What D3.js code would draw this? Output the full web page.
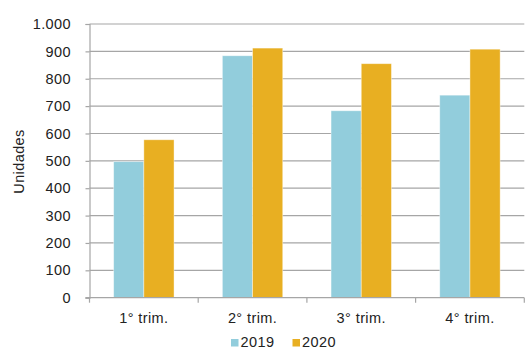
<!DOCTYPE html>
<html><head><meta charset="utf-8">
<script src="https://cdn.jsdelivr.net/npm/d3@7"></script>
<style>body{margin:0;background:#fff}svg{display:block}text{font-family:"Liberation Sans",Arial,Helvetica,sans-serif;fill:#222;letter-spacing:0.4px}</style>
</head><body><svg id="c" width="528" height="351"></svg>
<script>
const categories = ["1° trim.", "2° trim.", "3° trim.", "4° trim."];
const seriesNames = ["2019", "2020"];
const values2019 = [497, 884, 683, 740];
const values2020 = [577, 912, 855, 908];
const yTicks = [0,100,200,300,400,500,600,700,800,900,1000];
const colors = ["#92CDDC", "#E8AF22"];

(function(){
const FS = 14.5;
const svg = d3.select("#c");
const mL = 89.5, mR = 524.3, mT = 24, mB = 297.7;
const x = d3.scaleBand().domain(categories).range([mL, mR]).paddingInner(0).paddingOuter(0);
const x1 = d3.scaleBand().domain(seriesNames).range([0, x.bandwidth()]).paddingOuter(0.8).paddingInner(0);
const y = d3.scaleLinear().domain([0, 1000]).range([mB, mT]);
const fmt = d => d3.format(",")(d).replace(/,/g, ".");

svg.append("g").selectAll("line").data(yTicks.filter(d=>d>0)).join("line")
  .attr("x1", mL).attr("x2", mR).attr("y1", d=>y(d)).attr("y2", d=>y(d))
  .attr("stroke", "#a6a6a6").attr("stroke-width", 1.2);

const ya = svg.append("g").attr("transform", `translate(${mL},0)`)
  .call(d3.axisLeft(y).tickValues(yTicks).tickFormat(fmt).tickSize(4).tickPadding(14.5));
ya.select(".domain").attr("stroke", "#a6a6a6").attr("stroke-width", 1.2);
ya.selectAll(".tick line").attr("stroke", "#a6a6a6").attr("stroke-width", 1.2);
ya.selectAll("text").attr("font-size", FS).attr("fill", "#222").style("font-family", "Liberation Sans, Arial, sans-serif");

const data = categories.map((c,i)=>({c, vals:[values2019[i], values2020[i]]}));
const g = svg.append("g");
data.forEach(d => {
  d.vals.forEach((v,j) => {
    g.append("rect")
      .attr("x", x(d.c) + x1(seriesNames[j]))
      .attr("y", y(v))
      .attr("width", x1.bandwidth())
      .attr("height", y(0) - y(v))
      .attr("fill", colors[j])
      .attr("stroke", "#ffffff").attr("stroke-opacity", 0.5).attr("stroke-width", 0.8);
  });
});

const xa = svg.append("g").attr("transform", `translate(0,${mB})`)
  .call(d3.axisBottom(x).tickSize(0).tickPadding(15.3));
xa.select(".domain").remove();
xa.selectAll("text").attr("font-size", FS).attr("fill", "#222").style("font-family", "Liberation Sans, Arial, sans-serif");
svg.append("line").attr("x1", mL-4).attr("x2", mR).attr("y1", mB).attr("y2", mB)
  .attr("stroke", "#a6a6a6").attr("stroke-width", 1.2);
const bounds = categories.map(c => x(c)).concat([mR]);
svg.append("g").selectAll("line").data(bounds).join("line")
  .attr("x1", d=>d).attr("x2", d=>d).attr("y1", mB).attr("y2", mB+5)
  .attr("stroke", "#a6a6a6").attr("stroke-width", 1.2);

svg.append("text").attr("transform", "translate(24,161.5) rotate(-90)")
  .attr("text-anchor", "middle").attr("font-size", FS).text("Unidades");

const lg = svg.append("g");
const lx = [231, 292.5];
seriesNames.forEach((s,i)=>{
  lg.append("rect").attr("x", lx[i]).attr("y", 339).attr("width", 7.5).attr("height", 7.5).attr("fill", colors[i]);
  lg.append("text").attr("x", lx[i]+9.5).attr("y", 346.7).attr("font-size", FS).text(s);
});
})();
</script></body></html>
